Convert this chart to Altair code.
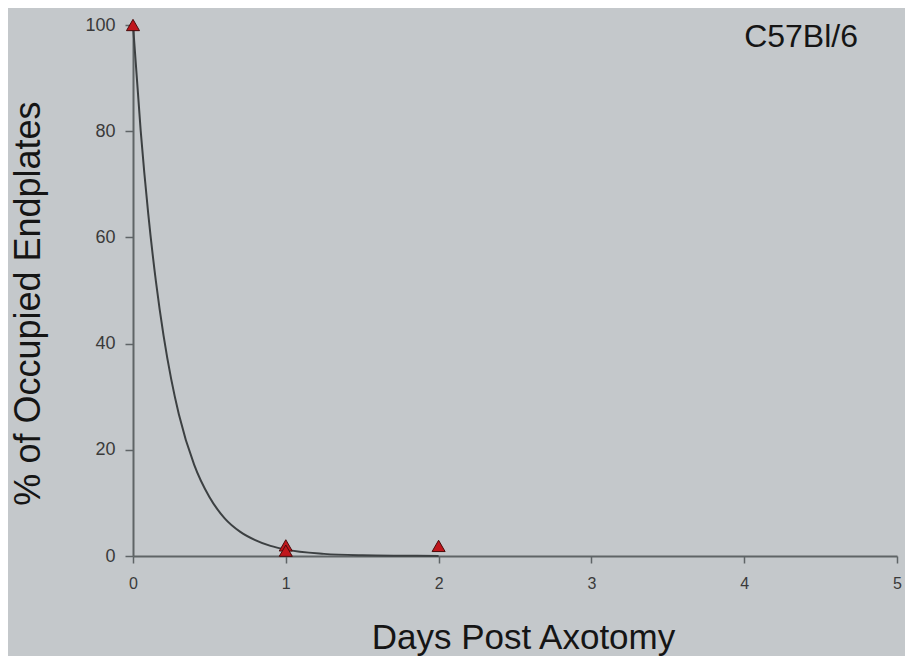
import altair as alt
import pandas as pd

# observed data points (days, % occupied)
obs_days = [0, 1, 1, 2]
obs_pct = [100, 2.0, 1.0, 1.9]

# fitted decay curve
fit_days = [0, 0.05, 0.1, 0.15, 0.2, 0.25, 0.3, 0.4, 0.5, 0.6, 0.7, 0.8, 0.9, 1.0, 1.25, 1.5, 1.75, 2.0]
fit_pct = [100, 80.2, 64.4, 51.7, 41.5, 33.3, 26.7, 17.2, 11.1, 7.1, 4.6, 3.0, 1.9, 1.2, 0.4, 0.13, 0.05, 0.02]

x_ticks = [0, 1, 2, 3, 4, 5]
y_ticks = [0, 20, 40, 60, 80, 100]
strain_label = ["C57Bl/6"]

obs = pd.DataFrame({"days": obs_days, "pct": obs_pct})
fit = pd.DataFrame({"days": fit_days, "pct": fit_pct})
lab = pd.DataFrame({"label": strain_label})

FONT = "Liberation Sans"

xscale = alt.Scale(domain=[0, 5], nice=False, zero=False)
yscale = alt.Scale(domain=[0, 100], nice=False)

xaxis = alt.Axis(
    values=x_ticks, format="d", title="Days Post Axotomy", grid=False,
    labelFlush=False, labelOverlap=False, labelBound=False,
    domainColor="#5f6466", domainWidth=2, tickColor="#5f6466", tickWidth=1.5, tickSize=7,
    labelFont=FONT, labelFontSize=16, labelColor="#3a3a3a", labelPadding=12,
    titleFont=FONT, titleFontSize=35, titleFontWeight="normal", titleColor="#151515",
    titleX=390, titleY=92, titleBaseline="alphabetic",
)
yaxis = alt.Axis(
    values=y_ticks, format="d", title="% of Occupied Endplates", grid=False,
    labelFlush=False, labelOverlap=False, labelBound=False,
    domainColor="#5f6466", domainWidth=2, tickColor="#5f6466", tickWidth=1.5, tickSize=8,
    labelFont=FONT, labelFontSize=18, labelColor="#3a3a3a", labelPadding=10,
    titleFont=FONT, titleFontSize=36, titleFontWeight="normal", titleColor="#151515",
    titleX=-94, titleY=278, titleBaseline="alphabetic", titleAngle=270,
)

curve = alt.Chart(fit).mark_line(color="#3c4042", strokeWidth=2, interpolate="monotone").encode(
    x=alt.X("days:Q", scale=xscale, axis=xaxis),
    y=alt.Y("pct:Q", scale=yscale, axis=yaxis),
)

pts = alt.Chart(obs).mark_point(
    shape="triangle-up", filled=True, size=170, fill="#c0161c", stroke="#4a0c0c", strokeWidth=1, opacity=1
).encode(
    x=alt.X("days:Q", scale=xscale),
    y=alt.Y("pct:Q", scale=yscale),
)

txt = alt.Chart(lab).mark_text(
    font=FONT, fontSize=32, color="#151515", align="right", baseline="alphabetic"
).encode(
    text="label:N", x=alt.value(725), y=alt.value(22)
)

chart = alt.layer(curve, pts, txt).properties(
    width=764, height=531,
    background="#c4c8cb",
    padding={"left": 125, "top": 17, "right": 8, "bottom": 100},
    autosize=alt.AutoSizeParams(type="none"),
).configure_view(stroke=None)

chart.save("out.html", embed_options={"renderer": "svg", "actions": False})
